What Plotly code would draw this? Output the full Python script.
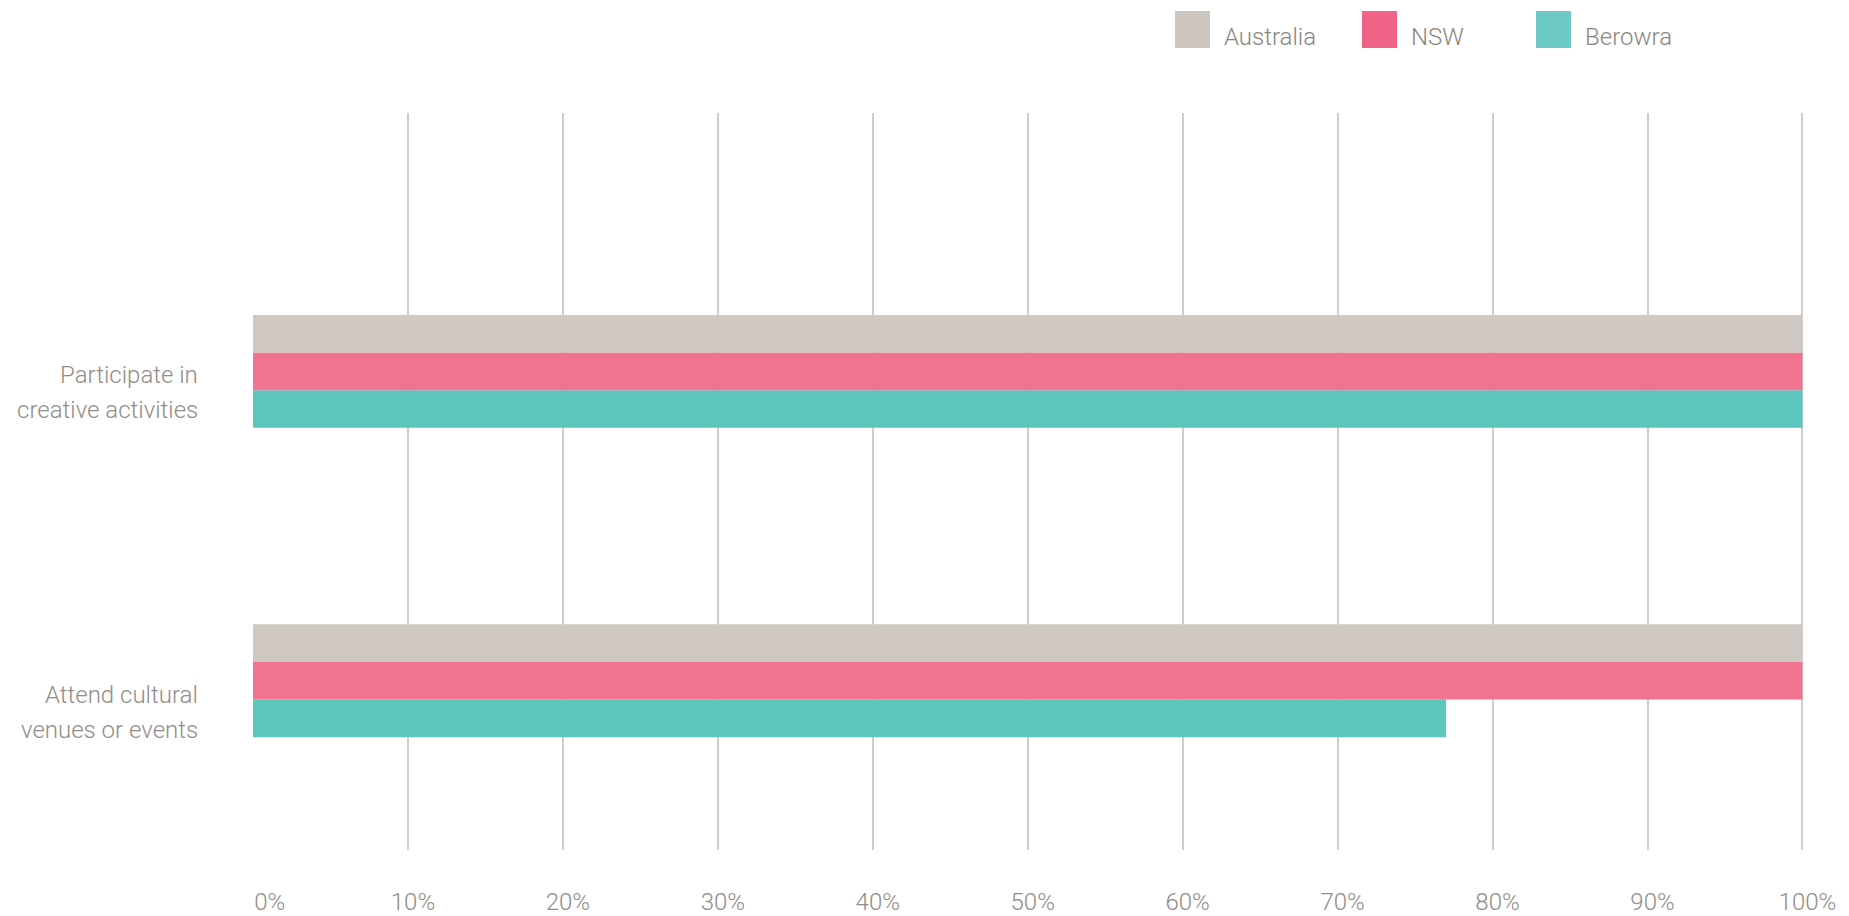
import plotly.graph_objects as go

categories = ["Attend cultural<br>venues or events", "Participate in<br>creative activities"]
series_names = ["Australia", "NSW", "Berowra"]
australia = [100, 100]
nsw = [100, 100]
berowra = [77, 100]
x_ticks = [0, 10, 20, 30, 40, 50, 60, 70, 80, 90, 100]
x_tick_labels = [f"{t}%" for t in x_ticks]

bar_colors = {"Australia": "#d0c8c2", "NSW": "#f0748f", "Berowra": "#5cc5bc"}
legend_colors = {"Australia": "#cdc5bf", "NSW": "#f06387", "Berowra": "#6cc9c3"}
values = {"Australia": australia, "NSW": nsw, "Berowra": berowra}

W, H = 1849, 916
ML, MR, MT, MB = 253, 45, 113, 66
PW, PH = W - ML - MR, H - MT - MB
FONT = "Roboto, sans-serif"
FS = 24
WEIGHT = 300
TEXT = "#928c87"

fig = go.Figure()
for name in reversed(series_names):
    fig.add_trace(go.Bar(
        y=categories, x=values[name], orientation="h", name=name,
        marker=dict(color=bar_colors[name], line=dict(width=0)),
        showlegend=False, hoverinfo="x+name",
    ))

# category labels, one annotation per line for wider line spacing
label_line_shifts = [[-14, -49], [-4, -39]]
for cat, shifts in zip(categories, label_line_shifts):
    for line, sh in zip(cat.split("<br>"), shifts):
        fig.add_annotation(
            xref="paper", yref="y", x=0, y=cat, xanchor="right", yanchor="middle",
            xshift=-53, yshift=sh, text=line, showarrow=False, align="right",
            font=dict(family=FONT, size=FS, color=TEXT, weight=WEIGHT),
        )

# manual legend
legend_px = [1175, 1362, 1536]
sq = 37
for name, lx in zip(series_names, legend_px):
    x0 = (lx - ML) / PW
    x1 = (lx + 35 - ML) / PW
    y1 = (H - MB - 11) / PH
    y0 = (H - MB - 11 - sq) / PH
    fig.add_shape(type="rect", xref="paper", yref="paper", x0=x0, x1=x1, y0=y0, y1=y1,
                  fillcolor=legend_colors[name], line=dict(width=0))
    fig.add_annotation(
        xref="paper", yref="paper", x=(lx + 47 - ML) / PW, y=(H - MB - 37) / PH,
        xanchor="left", yanchor="middle", text=name, showarrow=False,
        font=dict(family=FONT, size=FS, color="#8a8580", weight=WEIGHT),
    )

fig.update_layout(
    width=W, height=H,
    margin=dict(l=ML, r=MR, t=MT, b=MB, pad=0, autoexpand=False),
    paper_bgcolor="white", plot_bgcolor="white",
    barmode="group", bargap=0.635, bargroupgap=0,
    showlegend=False,
    font=dict(family=FONT, size=FS, color=TEXT, weight=WEIGHT),
)
fig.update_xaxes(
    range=[0, 100.1], tickvals=x_ticks,
    ticktext=[("\u00a0" * 4 + t) if i == 0 else t for i, t in enumerate(x_tick_labels)],
    showgrid=True, gridcolor="#d3cdc8", gridwidth=1.5, automargin=False,
    zeroline=False, showline=False, ticks="", ticklabelstandoff=35, ticklabelshift=5,
    tickfont=dict(family=FONT, size=FS, color=TEXT, weight=WEIGHT),
)
fig.update_yaxes(
    range=[-0.547, 1.835], showticklabels=False, showgrid=False, automargin=False,
    zeroline=False, showline=False, ticks="",
)

fig.write_html("out.html", config={"displayModeBar": False},
               post_script="document.body.style.margin='0';")
